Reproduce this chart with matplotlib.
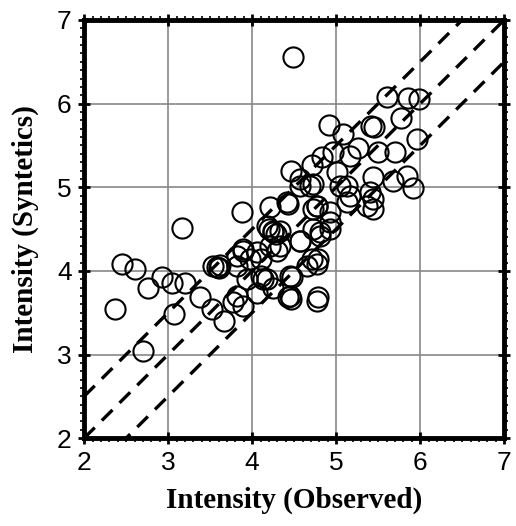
import numpy as np
import matplotlib.pyplot as plt
from matplotlib.ticker import MultipleLocator

# observed vs synthetic intensity
obs = [4.49, 5.60, 5.85, 5.99, 4.92, 5.08, 5.42, 5.45, 5.77, 5.96,
       5.70, 5.50, 5.26, 5.17, 4.96, 4.83, 4.71, 4.46, 5.68, 5.84,
       5.92, 5.44, 5.40, 5.44, 5.44, 5.13, 5.17, 5.01, 4.73, 4.93,
       4.42, 4.21, 4.57, 4.69, 3.88, 3.17, 2.45, 2.61, 2.93, 2.76,
       3.05, 3.20, 3.38, 3.52, 3.66, 3.07, 2.37, 2.70, 3.54, 3.58,
       3.60, 3.62, 3.89, 3.82, 4.06, 4.10, 3.94, 3.82, 3.89, 3.77,
       4.06, 4.30, 4.25, 4.20, 4.28, 4.33, 4.57, 4.73, 4.81, 4.93,
       4.77, 4.65, 4.48, 4.43, 4.46, 4.77, 4.25, 4.18, 4.10, 4.77,
       5.37, 5.13, 4.43, 4.57, 4.73, 5.05, 4.77, 4.93, 4.81, 4.57,
       4.33, 4.21, 3.89, 3.82, 3.98, 4.13, 4.45, 4.71, 4.79, 4.45,
       4.79, 4.18, 4.25]
syn = [6.56, 6.08, 6.07, 6.06, 5.74, 5.64, 5.73, 5.72, 5.83, 5.58,
       5.42, 5.42, 5.47, 5.37, 5.42, 5.36, 5.27, 5.20, 5.07, 5.13,
       4.99, 5.12, 4.94, 4.86, 4.74, 5.01, 4.89, 5.18, 4.74, 4.70,
       4.82, 4.76, 5.10, 5.01, 4.71, 4.51, 4.08, 4.02, 3.93, 3.79,
       3.85, 3.85, 3.69, 3.55, 3.40, 3.49, 3.55, 3.04, 4.06, 4.05,
       4.03, 4.07, 4.24, 4.06, 4.23, 3.94, 3.90, 3.70, 3.58, 3.63,
       3.73, 4.24, 4.46, 4.50, 4.44, 4.48, 4.36, 4.50, 4.42, 4.50,
       4.08, 4.06, 3.93, 3.69, 3.66, 3.64, 3.79, 3.90, 4.14, 4.77,
       4.77, 4.82, 4.80, 5.01, 5.04, 5.01, 4.77, 4.58, 4.46, 4.36,
       4.30, 4.30, 4.26, 4.18, 4.14, 3.90, 3.94, 4.14, 4.14, 3.70,
       3.69, 4.54, 4.48]

plt.rcParams['font.family'] = ['Liberation Sans', 'DejaVu Sans']

fig = plt.figure(figsize=(5.16, 5.26), dpi=100)
ax = fig.add_axes([0.163, 0.167, 0.814, 0.795])

ax.set_xlim(2, 7)
ax.set_ylim(2, 7)
ax.grid(True, color='#888888', linewidth=1.2)
ax.set_axisbelow(True)

# 1:1 line and +/- 0.5 lines
line_x = np.array([2, 7])
for off in [0.5, 0, -0.5]:
    ax.plot(line_x, line_x + off, color='black', linestyle=(0, (4.5, 3)), linewidth=2.4)

ax.plot(obs, syn, 'o', markersize=14.5, markerfacecolor='none',
        markeredgecolor='black', markeredgewidth=1.5, linestyle='none')

for s in ax.spines.values():
    s.set_linewidth(3.5)

ax.xaxis.set_major_locator(MultipleLocator(1))
ax.yaxis.set_major_locator(MultipleLocator(1))
ax.xaxis.set_minor_locator(MultipleLocator(0.1))
ax.yaxis.set_minor_locator(MultipleLocator(0.1))
ax.tick_params(which='major', direction='inout', length=8, width=2,
               top=True, right=True, labelsize=19, pad=5)
ax.tick_params(which='minor', direction='out', length=3, width=1.2,
               top=True, right=True)

ax.set_xlabel('Intensity (Observed)', family='Liberation Serif',
              fontweight='bold', fontsize=21, labelpad=9)
ax.set_ylabel('Intensity (Syntetics)', family='Liberation Serif',
              fontweight='bold', fontsize=21, labelpad=13)

fig.savefig('out.png', dpi=100)
